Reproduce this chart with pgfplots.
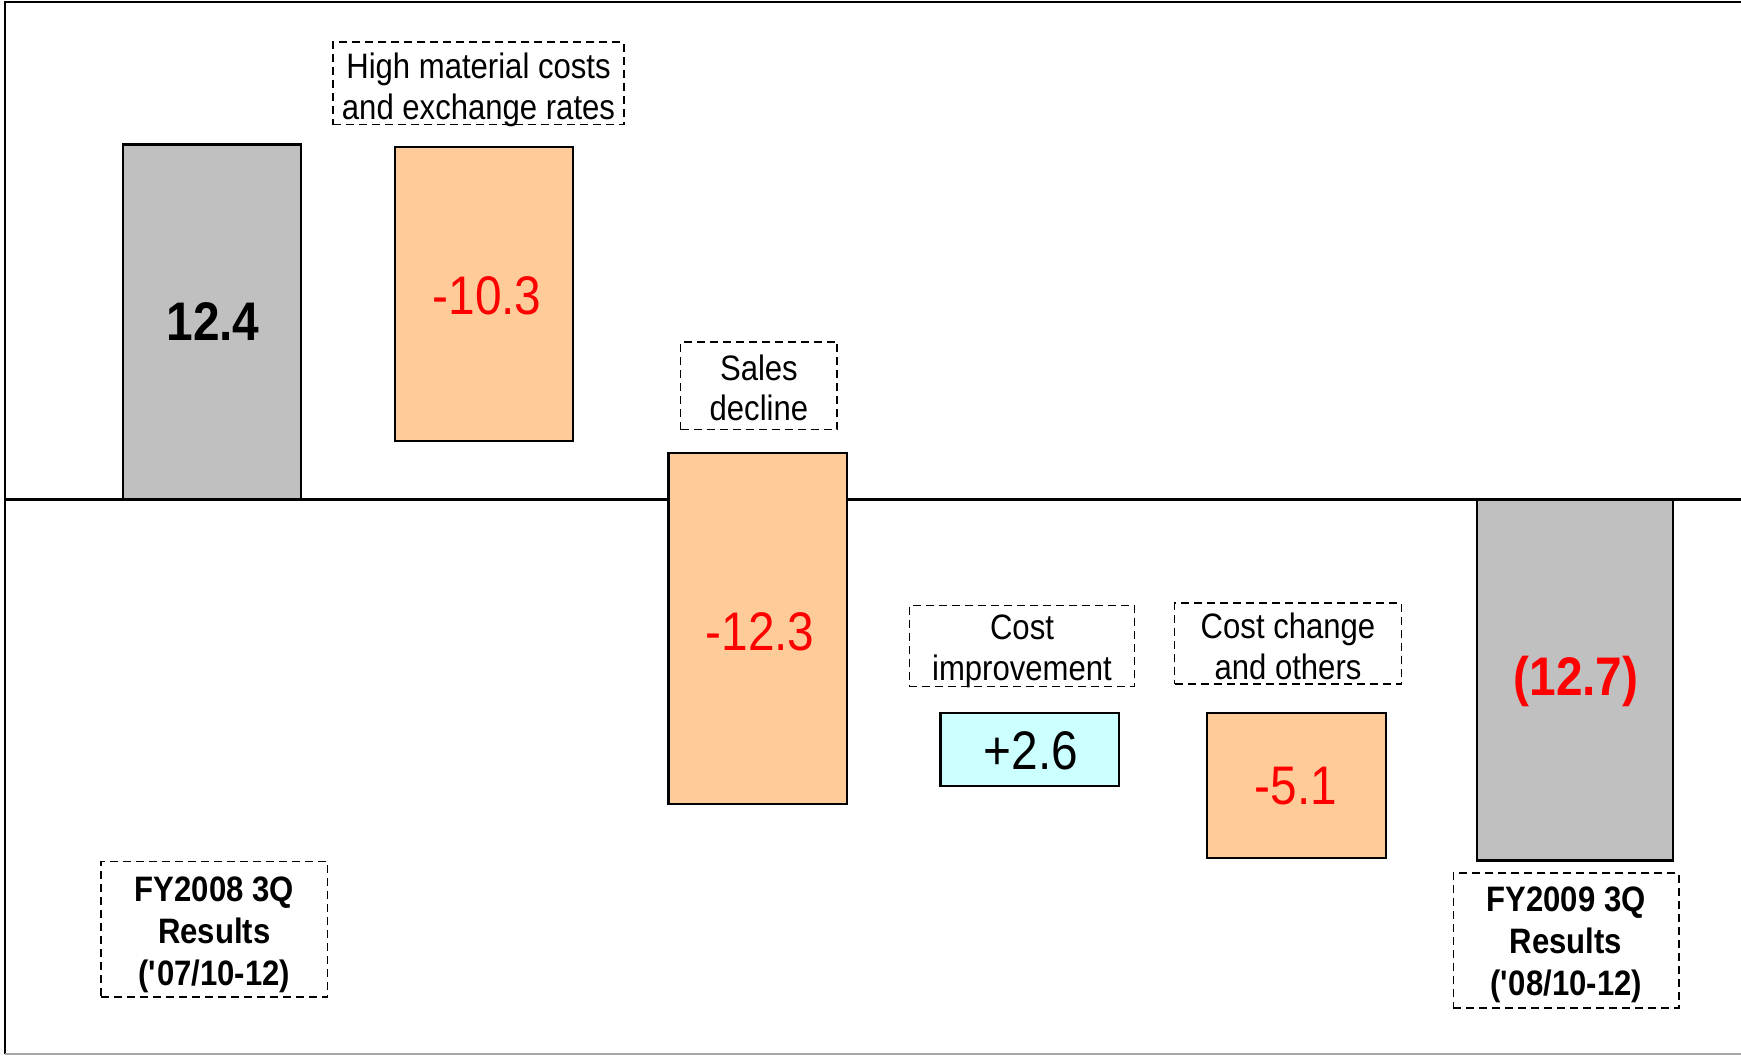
\documentclass[border=0pt]{standalone}
\usepackage{pgfplots}
\pgfplotsset{compat=1.18}
\usepackage{fontspec}
\setmainfont{Liberation Sans}[FakeStretch=0.88]
\definecolor{barGray}{HTML}{C0C0C0}
\definecolor{barOrange}{HTML}{FFCC99}
\definecolor{barCyan}{HTML}{CCFFFF}
\definecolor{numRed}{HTML}{FF0000}
\tikzset{
  bar/.style={draw=black, line width=0.7pt},
  dbox/.style={draw=black, line width=0.45pt, dash pattern=on 2.4pt off 1.5pt, inner sep=0pt},
  lbl/.style={align=center, inner sep=0pt, font=\fontsize{10.6}{12.2}\selectfont},
  fylbl/.style={align=center, inner sep=0pt, font=\bfseries\fontsize{10.6}{12.6}\selectfont},
  num/.style={font=\fontsize{16.3}{18}\selectfont},
  bnum/.style={font=\bfseries\fontsize{16.3}{18}\selectfont}
}
\begin{document}
\begin{tikzpicture}
\begin{axis}[
  scale only axis, width=522.3pt, height=316.8pt,
  xmin=0, xmax=1741, ymin=-19.42, ymax=17.44,
  hide axis, clip=false
]
% frame
\addplot[black, line width=0.5pt] coordinates {(5,-19.35) (5,17.37) (1741,17.37)};
\addplot[gray!70, line width=0.6pt] coordinates {(5,-19.35) (1741,-19.35)};
% zero line
\addplot[black, line width=0.8pt] coordinates {(5,0) (1741,0)};
% bars (x in px, y in value units)
\addplot[bar, fill=barGray]   coordinates {(123.2,0) (300.9,0) (300.9,12.40) (123.2,12.40)} -- cycle;
\addplot[bar, fill=barOrange] coordinates {(395.3,2.05) (572.9,2.05) (572.9,12.32) (395.3,12.32)} -- cycle;
\addplot[bar, fill=barOrange] coordinates {(668.4,-10.62) (847.2,-10.62) (847.2,1.63) (668.4,1.63)} -- cycle;
\addplot[bar, fill=barCyan]   coordinates {(940.4,-10.00) (1119.2,-10.00) (1119.2,-7.44) (940.4,-7.44)} -- cycle;
\addplot[bar, fill=barOrange] coordinates {(1206.9,-12.52) (1385.7,-12.52) (1385.7,-7.44) (1206.9,-7.44)} -- cycle;
\addplot[bar, fill=barGray]   coordinates {(1476.7,-12.60) (1673.2,-12.60) (1673.2,0) (1476.7,0)} -- cycle;
% value labels
\node[bnum] at (axis cs:213,6.2) {12.4};
\node[num, text=numRed] at (axis cs:487,7.1) {-10.3};
\node[num, text=numRed] at (axis cs:760,-4.6) {-12.3};
\node[num] at (axis cs:1031,-8.78) {+2.6};
\node[num, text=numRed] at (axis cs:1296,-10.0) {-5.1};
\node[bnum, text=numRed] at (axis cs:1576,-6.33) {(12.7)};
% category boxes
\node[dbox, minimum width=87.3pt, minimum height=24.7pt] at (axis cs:478.5,14.53) {};
\node[lbl, yshift=-2.0pt] at (axis cs:478.5,14.53) {High material costs\\and exchange rates};
\node[dbox, minimum width=47pt, minimum height=26.3pt] at (axis cs:758.9,3.97) {};
\node[lbl, yshift=-0.6pt] at (axis cs:758.9,3.97) {Sales\\decline};
\node[dbox, minimum width=67.6pt, minimum height=24.3pt] at (axis cs:1022,-5.10) {};
\node[lbl, yshift=-1.7pt] at (axis cs:1022,-5.10) {Cost\\improvement};
\node[dbox, minimum width=68pt, minimum height=24.3pt] at (axis cs:1288,-5.02) {};
\node[lbl, yshift=-0.8pt] at (axis cs:1288,-5.02) {Cost change\\and others};
\node[dbox, minimum width=68pt, minimum height=40.6pt] at (axis cs:214.3,-15.0) {};
\node[fylbl, yshift=-1.6pt] at (axis cs:214.3,-15.0) {FY2008 3Q\\Results\\(\textquotesingle 07/10-12)};
\node[dbox, minimum width=67.6pt, minimum height=40.6pt] at (axis cs:1566.1,-15.39) {};
\node[fylbl, yshift=-1.3pt] at (axis cs:1566.1,-15.39) {FY2009 3Q\\Results\\(\textquotesingle 08/10-12)};
\end{axis}
\pgfresetboundingbox
\useasboundingbox (current axis.south west) rectangle (current axis.north east);
\end{tikzpicture}
\end{document}
